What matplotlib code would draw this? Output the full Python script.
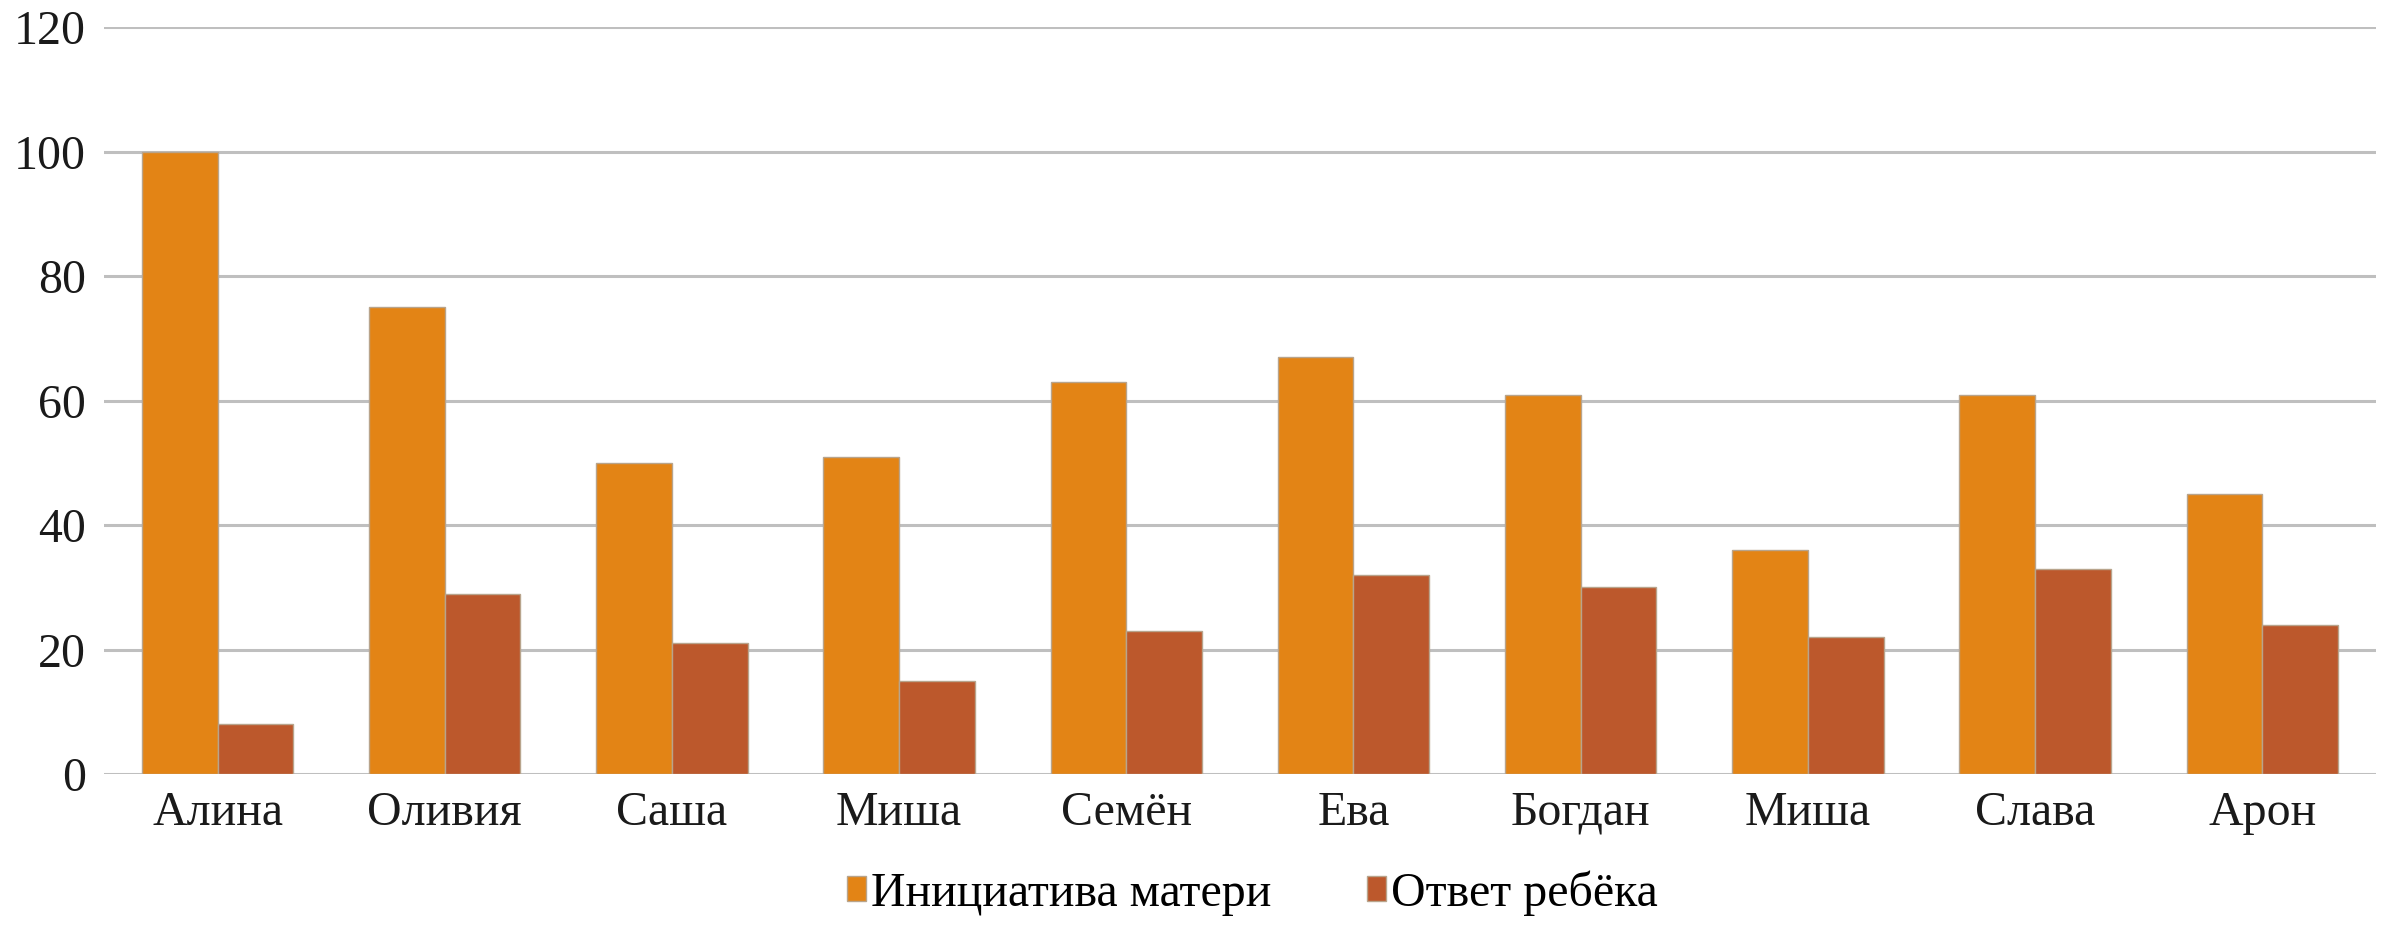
import numpy as np
import matplotlib.pyplot as plt

names = ["Алина", "Оливия", "Саша", "Миша", "Семён", "Ева", "Богдан", "Миша", "Слава", "Арон"]
mother = [100, 75, 50, 51, 63, 67, 61, 36, 61, 45]
child = [8, 29, 21, 15, 23, 32, 30, 22, 33, 24]
labels = ["Инициатива матери", "Ответ ребёка"]

plt.rcParams['font.family'] = ['Liberation Serif', 'DejaVu Serif']

fig = plt.figure(figsize=(23.95, 9.32), dpi=100)
ax = fig.add_axes([0.0434, 0.1695, 0.9486, 0.801])

x = np.arange(len(names))
w = 1 / 3
ax.bar(x - w / 2, mother, width=w, color='#E38415', edgecolor='#B8A48C', linewidth=1.0, label=labels[0], zorder=3)
ax.bar(x + w / 2, child, width=w, color='#BC582C', edgecolor='#B8A48C', linewidth=1.0, label=labels[1], zorder=3)

ax.set_xlim(-0.5, len(names) - 0.5)
ax.set_ylim(0, 120)
ax.set_yticks(range(0, 121, 20))
ax.set_xticks(x)
ax.set_xticklabels(names)
ax.tick_params(axis='both', length=0, labelsize=34.5, colors='#1a1a1a')
ax.tick_params(axis='y', pad=13)
ax.tick_params(axis='x', pad=12)
ax.yaxis.grid(True, color='#BFBFBF', linewidth=2.2, zorder=0)
ax.set_axisbelow(True)
for s in ax.spines.values():
    s.set_visible(False)

fig.legend(loc='center', bbox_to_anchor=(0.523, 0.042), ncol=2, frameon=False,
           fontsize=34.5, handlelength=0.4, handleheight=0.4, handletextpad=0.1,
           columnspacing=2.0)

fig.savefig('out.png', dpi=100)
